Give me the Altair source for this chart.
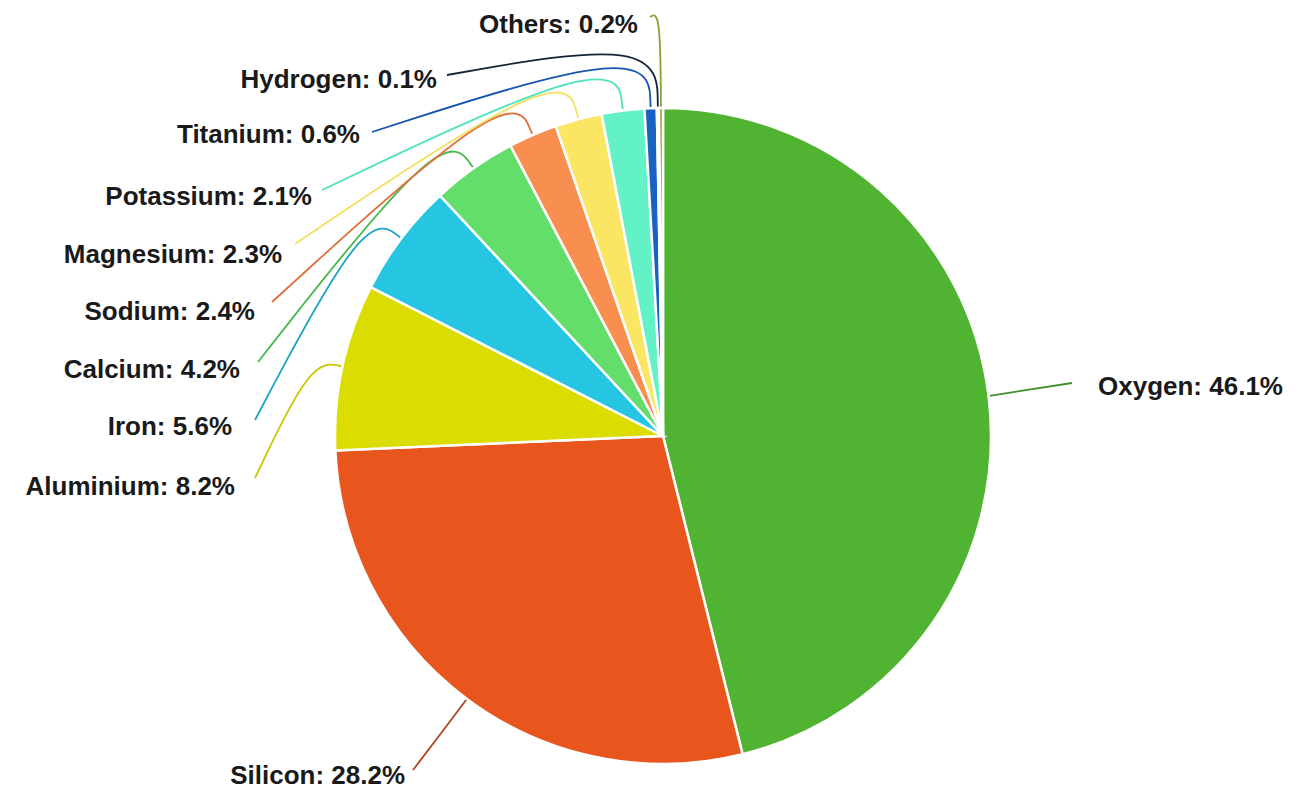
import math
import altair as alt
import pandas as pd

# ---- data ----
elements = ["Oxygen", "Silicon", "Aluminium", "Iron", "Calcium", "Sodium",
            "Magnesium", "Potassium", "Titanium", "Hydrogen", "Others"]
percents = [46.1, 28.2, 8.2, 5.6, 4.2, 2.4, 2.3, 2.1, 0.6, 0.1, 0.2]
labels = ["Oxygen: 46.1%", "Silicon: 28.2%", "Aluminium: 8.2%", "Iron: 5.6%",
          "Calcium: 4.2%", "Sodium: 2.4%", "Magnesium: 2.3%", "Potassium: 2.1%",
          "Titanium: 0.6%", "Hydrogen: 0.1%", "Others: 0.2%"]

# ---- styles ----
slice_colors = ["#50b432", "#e9561d", "#dbdc00", "#26c6e3", "#63de6a", "#f98e51",
                "#fbe663", "#63f2c7", "#1a62c2", "#1b2f4c", "#8a9f36"]
line_colors = ["#3f8f2a", "#b4441c", "#c9c800", "#1ba3c8", "#45b84a", "#e0703c",
               "#f3e060", "#4ee3bd", "#1553b0", "#14233a", "#8a9f36"]

# ---- layout (chart pixel space) ----
W, H = 1300, 783
CX, CY, R = 655, 428, 328
# label anchor: (text x, text y, align), line end (x, y), elbow radius
label_pos = [(1090, 379, "left"), (397, 768, "right"), (227, 479, "right"),
             (224, 419, "right"), (232, 362, "right"), (247, 304, "right"),
             (274, 247, "right"), (304, 189, "right"), (352, 127, "right"),
             (429, 72, "right"), (630, 17, "right")]
line_end = [(1064, 375), (405, 762), (247, 470), (247, 412), (250, 354),
            (264, 294), (287, 236), (314, 182), (364, 124), (439, 67), (642, 9)]
elbow_r = [368, 352, 360, 373, 380, 383, 386, 388, 393, 398, 425]

# ---- derived tables ----
pie_df = pd.DataFrame({"element": elements, "pct": percents,
                       "idx": list(range(len(elements)))})

total = sum(percents)
rows = []
cum = 0.0
for i, (e, p) in enumerate(zip(elements, percents)):
    mid = (cum + p / 2) / total * 2 * math.pi
    cum += p
    sx, sy = CX + (R + 1) * math.sin(mid), CY - (R + 1) * math.cos(mid)
    ex, ey = CX + elbow_r[i] * math.sin(mid), CY - elbow_r[i] * math.cos(mid)
    pts = [(sx, sy), (ex, ey), line_end[i]]
    if e == "Oxygen":
        pts = [(sx, sy), line_end[i]]
    for k, (x, y) in enumerate(pts):
        rows.append({"element": e, "k": k, "x": x, "y": y})
line_df = pd.DataFrame(rows)

text_df = pd.DataFrame({
    "element": elements, "label": labels,
    "x": [p[0] for p in label_pos], "y": [p[1] for p in label_pos],
    "align": [p[2] for p in label_pos],
})

xs = alt.Scale(domain=[0, W], nice=False, zero=False)
ys = alt.Scale(domain=[H, 0], nice=False, zero=False)

pie = alt.Chart(pie_df).mark_arc(outerRadius=R, stroke="white", strokeWidth=2.5).encode(
    theta=alt.Theta("pct:Q", stack=True),
    order=alt.Order("idx:Q"),
    color=alt.Color("element:N", scale=alt.Scale(domain=elements, range=slice_colors),
                    legend=None),
    x=alt.value(CX), y=alt.value(CY),
)

lines = alt.Chart(line_df).mark_line(interpolate="basis", strokeWidth=1.8).encode(
    x=alt.X("x:Q", scale=xs, axis=None),
    y=alt.Y("y:Q", scale=ys, axis=None),
    detail="element:N",
    order="k:Q",
    color=alt.Color("element:N", scale=alt.Scale(domain=elements, range=line_colors),
                    legend=None),
)

text_style = dict(font="Liberation Sans", fontSize=26, fontWeight="bold",
                  color="#1a1a1a", baseline="middle")
left_text = alt.Chart(text_df).transform_filter("datum.align == 'right'").mark_text(
    align="right", **text_style).encode(
    x=alt.X("x:Q", scale=xs, axis=None), y=alt.Y("y:Q", scale=ys, axis=None),
    text="label:N")
right_text = alt.Chart(text_df).transform_filter("datum.align == 'left'").mark_text(
    align="left", **text_style).encode(
    x=alt.X("x:Q", scale=xs, axis=None), y=alt.Y("y:Q", scale=ys, axis=None),
    text="label:N")

chart = alt.layer(lines, pie, left_text, right_text).resolve_scale(
    color="independent"
).properties(
    width=W, height=H, padding=0,
    autosize=alt.AutoSizeParams(type="none"),
).configure_view(stroke=None)

chart.save("out.html", embed_options={"renderer": "svg", "actions": False})
